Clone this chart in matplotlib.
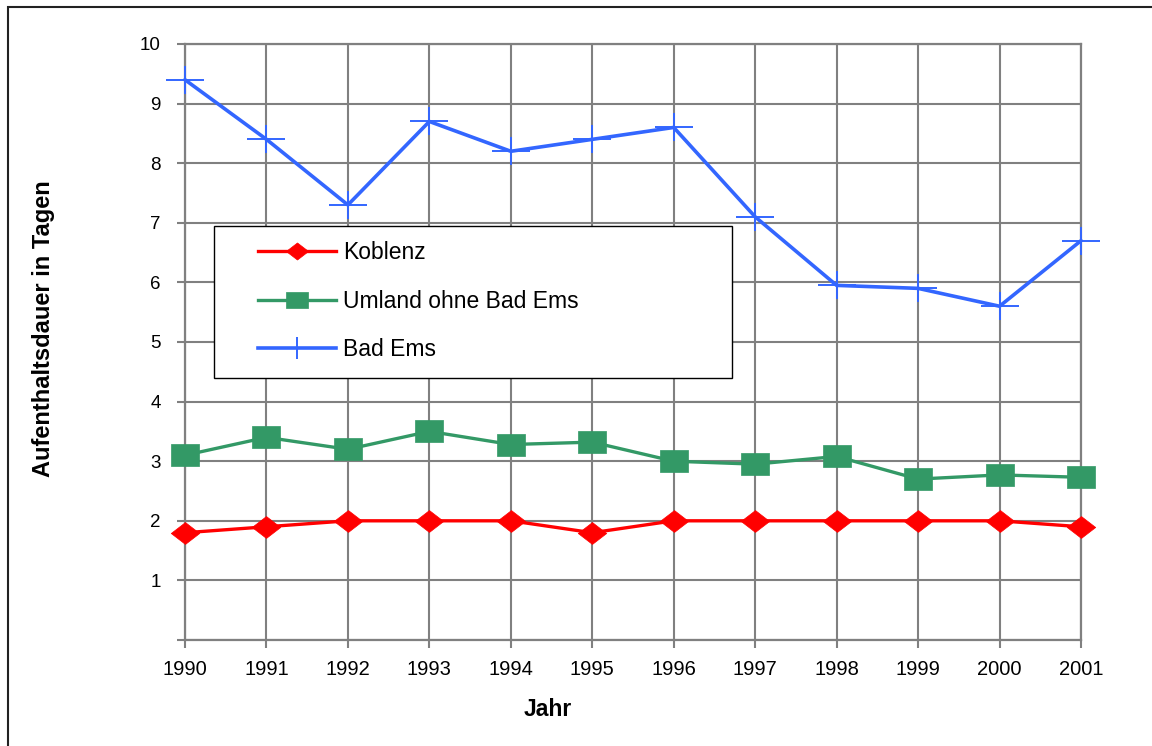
import matplotlib
matplotlib.use('Agg')
import matplotlib.pyplot as plt
from matplotlib.path import Path
from matplotlib.patches import Rectangle

plt.rcParams['font.family'] = ['Liberation Sans', 'DejaVu Sans']

# data
Jahre = [1990, 1991, 1992, 1993, 1994, 1995, 1996, 1997, 1998, 1999, 2000, 2001]
Koblenz = [1.8, 1.9, 2.0, 2.0, 2.0, 1.8, 2.0, 2.0, 2.0, 2.0, 2.0, 1.9]
Umland = [3.1, 3.4, 3.2, 3.5, 3.28, 3.32, 3.0, 2.95, 3.08, 2.7, 2.77, 2.73]
BadEms = [9.4, 8.4, 7.3, 8.7, 8.2, 8.4, 8.6, 7.1, 5.95, 5.9, 5.6, 6.7]
YTicks = [0, 1, 2, 3, 4, 5, 6, 7, 8, 9, 10]
YLabels = ['', '1', '2', '3', '4', '5', '6', '7', '8', '9', '10']

# markers, a bit wider than tall like in the original
Diamond = Path([(-13, 0), (0, 10), (13, 0), (0, -10), (-13, 0)],
               [Path.MOVETO, Path.LINETO, Path.LINETO, Path.LINETO, Path.CLOSEPOLY])
Square = Path([(-13.5, -10.5), (13.5, -10.5), (13.5, 10.5), (-13.5, 10.5), (-13.5, -10.5)],
              [Path.MOVETO, Path.LINETO, Path.LINETO, Path.LINETO, Path.CLOSEPOLY])
Plus = Path([(-19, 0), (19, 0), (0, -13.5), (0, 13.5)],
            [Path.MOVETO, Path.LINETO, Path.MOVETO, Path.LINETO])

Red = '#FF0000'
Green = '#339966'
Blue = '#3366FF'
Gray = '#808080'

fig = plt.figure(figsize=(11.52, 7.46), dpi=100)
ax = fig.add_axes([185/1152, 1-640/746, 896/1152, 596/746])

ax.plot(Jahre, Koblenz, color=Red, lw=2.4, marker=Diamond, ms=20.5,
        mfc=Red, mec=Red, mew=0.5, label='Koblenz', zorder=4, clip_on=False)
ax.plot(Jahre, Umland, color=Green, lw=2.4, marker=Square, ms=20,
        mfc=Green, mec=Green, mew=0.5, label='Umland ohne Bad Ems', zorder=4, clip_on=False)
ax.plot(Jahre, BadEms, color=Blue, lw=2.6, marker=Plus, ms=27.4,
        mec=Blue, mew=1.4, label='Bad Ems', zorder=4, clip_on=False)

ax.set_xlim(1990, 2001)
ax.set_ylim(0, 10)
ax.set_xticks(Jahre)
ax.set_xticklabels([str(j) for j in Jahre])
ax.set_yticks(YTicks)
ax.set_yticklabels(YLabels)

ax.grid(True, color=Gray, lw=1.5)
ax.set_axisbelow(True)
for s in ax.spines.values():
    s.set_color(Gray)
    s.set_linewidth(1.6)
ax.tick_params(axis='both', color=Gray, width=1.5, length=5.5, direction='out')
ax.tick_params(axis='y', labelsize=13.5, pad=12)
ax.tick_params(axis='x', labelsize=14.5, pad=9)

ax.set_xlabel('Jahr', fontsize=16.5, fontweight='bold')
ax.xaxis.set_label_coords((548-185)/896, (640-698)/596)
ax.set_ylabel('Aufenthaltsdauer in Tagen', fontsize=17, fontweight='bold')
ax.yaxis.set_label_coords((55-185)/896, (640-329)/596)

# legend box drawn by hand so its size matches
box = Rectangle(((214-185)/896, (640-378)/596), (732-214)/896, (378-226)/596,
                transform=ax.transAxes, facecolor='white', edgecolor='black',
                lw=1.0, zorder=5)
ax.add_patch(box)
leg = ax.legend(loc='upper left', bbox_to_anchor=((258-185)/896, (640-241)/596),
                frameon=False, fontsize=16.5, handlelength=3.4, handletextpad=0.3,
                labelspacing=1.12, borderpad=0, borderaxespad=0, markerscale=0.78)
leg.set_zorder(6)

# outer frame of the chart object
fig.add_artist(Rectangle((8/1152, -0.05), 1.1, 1-7/746+0.05, transform=fig.transFigure,
                         fill=False, edgecolor='#222222', lw=1.5))

fig.savefig('out.png', dpi=100)
